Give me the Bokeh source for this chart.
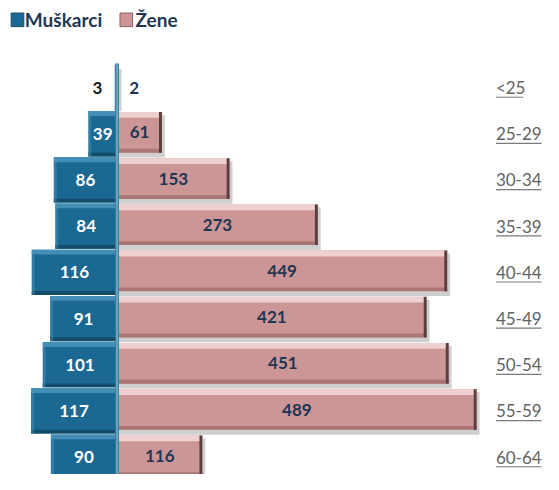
from bokeh.plotting import figure
from bokeh.models import Range1d
from bokeh.embed import file_html
from bokeh.resources import INLINE
from bokeh.core.properties import value

# ---- data ----
age_groups = ["<25", "25-29", "30-34", "35-39", "40-44", "45-49", "50-54", "55-59", "60-64"]
men = [3, 39, 86, 84, 116, 91, 101, 117, 90]
women = [2, 61, 153, 273, 449, 421, 451, 489, 116]
series_names = ["Muškarci", "Žene"]

# ---- layout helpers (reference pixel -> data units) ----
S = 0.757      # px per person
X0 = 120.0     # x of the zero line
P = 47.75      # px per age row
Y0 = 90.0      # y of first row
W, H = 543, 474

def X(px):
    return (px - X0) / S

def Y(py):
    return (py - Y0) / P

p = figure(width=W, height=H, output_backend="svg", toolbar_location=None,
           x_range=Range1d(X(0), X(559)), y_range=Range1d(Y(490), Y(0)),
           min_border=0, background_fill_color="white", border_fill_color="white")
p.axis.visible = False
p.grid.visible = False
p.outline_line_color = None

idx = list(range(len(age_groups)))
dx = lambda px: px / S
dy = lambda px: px / P

# ---- colours ----
BLUE = "#1b6892"
BLUE_HI = "#4a95bb"
BLUE_LO = "#124c6b"
PINK = "#cd9696"
PINK_HI = "#efd0d0"
PINK_LO = "#a97676"
PINK_EDGE = "#5a3f3f"
NAVY = "#1f3553"

# ---- men bars ----
mh = 0.49
ml = [-m for m in men]
zeros = [0] * len(men)
p.quad(left=ml, right=zeros, top=[i - mh for i in idx], bottom=[i + mh for i in idx],
       fill_color=BLUE, line_color=None)
p.quad(left=ml, right=zeros, top=[i - mh for i in idx], bottom=[i - mh + dy(5) for i in idx],
       fill_color=BLUE_HI, line_color=None, fill_alpha=0.85)
p.quad(left=ml, right=zeros, top=[i + mh - dy(4) for i in idx], bottom=[i + mh for i in idx],
       fill_color=BLUE_LO, line_color=None)
p.quad(left=ml, right=[min(-m + dx(3), 0) for m in men], top=[i - mh for i in idx], bottom=[i + mh for i in idx],
       fill_color=BLUE_HI, line_color=None, fill_alpha=0.45)

# ---- women bars ----
wt = -0.47
wb = 0.41
p.quad(left=[0] * len(women), right=[w + dx(3) for w in women], top=[i + wb for i in idx],
       bottom=[i + wb + dy(5) for i in idx], fill_color="#888888", fill_alpha=0.4, line_color=None)
p.quad(left=women, right=[w + dx(3) for w in women], top=[i + wt + dy(3) for i in idx],
       bottom=[i + wb for i in idx], fill_color="#888888", fill_alpha=0.4, line_color=None)
p.quad(left=[0] * len(women), right=women, top=[i + wt for i in idx], bottom=[i + wb for i in idx],
       fill_color=PINK, line_color=None)
p.quad(left=[0] * len(women), right=women, top=[i + wt for i in idx], bottom=[i + wt + dy(6) for i in idx],
       fill_color=PINK_HI, line_color=None)
p.quad(left=[0] * len(women), right=women, top=[i + wb - dy(4) for i in idx], bottom=[i + wb for i in idx],
       fill_color=PINK_LO, line_color=None)
p.quad(left=[max(w - dx(3), 0) for w in women], right=women, top=[i + wt for i in idx], bottom=[i + wb for i in idx],
       fill_color=PINK_EDGE, line_color=None)

# ---- centre line ----
p.quad(left=[dx(-2)], right=[dx(2)], top=[Y(65)], bottom=[Y(490)], fill_color="#3b7fa1", line_color=None)
p.quad(left=[dx(-0.6)], right=[dx(0.6)], top=[Y(65)], bottom=[Y(490)], fill_color="#8fbcd2", line_color=None)

# ---- value labels ----
FS = "17px"
big_m = [i for i in idx if men[i] >= 10]
small_m = [i for i in idx if men[i] < 10]
p.text(x=[-men[i] / 2 for i in big_m], y=big_m, text=[str(men[i]) for i in big_m],
       text_color="white", text_font=value("Lato"), text_font_style="bold", text_font_size=FS,
       text_align="center", text_baseline="middle")
p.text(x=[-men[i] - dx(18) for i in small_m], y=small_m, text=[str(men[i]) for i in small_m],
       text_color="#1a1a1a", text_font=value("Lato"), text_font_style="bold", text_font_size=FS,
       text_align="center", text_baseline="middle")
big_w = [i for i in idx if women[i] >= 10]
small_w = [i for i in idx if women[i] < 10]
p.text(x=[women[i] / 2 for i in big_w], y=[i - 0.03 for i in big_w], text=[str(women[i]) for i in big_w],
       text_color=NAVY, text_font=value("Lato"), text_font_style="bold", text_font_size=FS,
       text_align="center", text_baseline="middle")
p.text(x=[women[i] + dx(16) for i in small_w], y=small_w, text=[str(women[i]) for i in small_w],
       text_color=NAVY, text_font=value("Lato"), text_font_style="bold", text_font_size=FS,
       text_align="center", text_baseline="middle")

# ---- age labels (underlined) ----
lab_x = X(510)
p.text(x=[lab_x] * len(idx), y=idx, text=age_groups, text_color="#626262",
       text_font=value("Lato"), text_font_size="17px", text_align="left", text_baseline="middle")
p.segment(x0=[lab_x] * len(idx), x1=[lab_x + dx(len(a) * 9.4) for a in age_groups],
          y0=[i + dy(10) for i in idx], y1=[i + dy(10) for i in idx], line_color="#7a7a7a", line_width=1.2)

# ---- legend ----
p.quad(left=[X(11)], right=[X(24)], top=[Y(13)], bottom=[Y(27)], fill_color=BLUE, line_color=BLUE_LO)
p.quad(left=[X(123)], right=[X(136)], top=[Y(13)], bottom=[Y(27)], fill_color=PINK, line_color="#8a6060")
p.text(x=[X(25), X(139)], y=[Y(20), Y(20)], text=series_names, text_color=NAVY,
       text_font=value("Lato"), text_font_style="bold", text_font_size="19px",
       text_align="left", text_baseline="middle")

open("out.html", "w").write(file_html(p, INLINE))
